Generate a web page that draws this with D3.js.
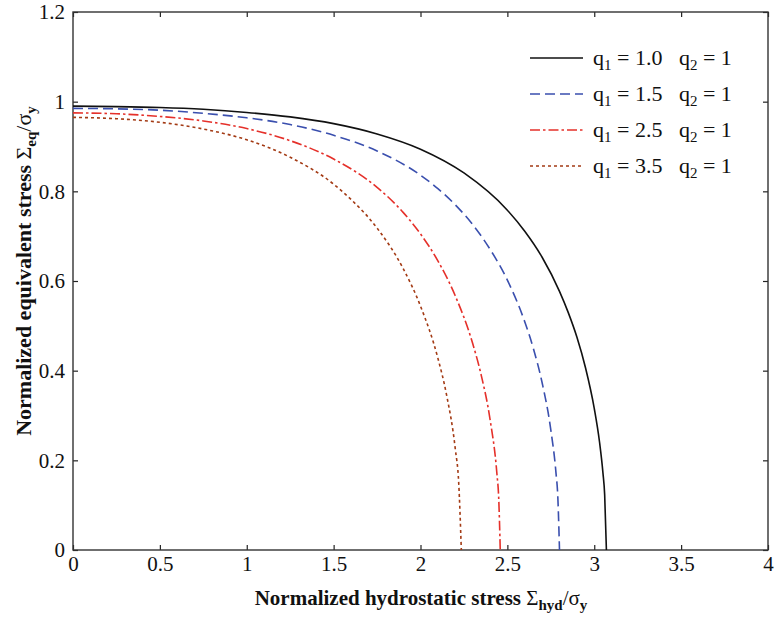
<!DOCTYPE html>
<html>
<head>
<meta charset="utf-8">
<script src="https://cdn.jsdelivr.net/npm/d3@7"></script>
<style>
  body { margin: 0; background: #fff; }
  svg text { font-family: "Liberation Serif", "Times New Roman", Times, serif; white-space: pre; }
</style>
</head>
<body>
<svg id="chart"></svg>
<script>
// points: [hydrostatic, equivalent]
var curveQ1_10 = [[0, 0.99], [0.25, 0.989], [0.5, 0.987], [0.75, 0.983], [1.0, 0.976], [1.25, 0.966],
    [1.5, 0.951], [1.75, 0.928], [2.0, 0.894], [2.25, 0.841], [2.5, 0.758], [2.6, 0.711], [2.7, 0.653],
    [2.8, 0.577], [2.85, 0.530], [2.9, 0.475], [2.95, 0.406], [3.0, 0.316], [3.03, 0.242], [3.05, 0.172],
    [3.06, 0.123], [3.07, 0]];
var curveQ1_15 = [[0, 0.985], [0.25, 0.984], [0.5, 0.981], [0.75, 0.974], [1.0, 0.964], [1.25, 0.949],
    [1.5, 0.925], [1.75, 0.890], [2.0, 0.836], [2.1, 0.806], [2.2, 0.770], [2.3, 0.726], [2.4, 0.671],
    [2.5, 0.602], [2.6, 0.509], [2.65, 0.449], [2.7, 0.373], [2.75, 0.268], [2.78, 0.171], [2.79, 0.121],
    [2.8, 0]];
var curveQ1_25 = [[0, 0.975], [0.25, 0.973], [0.5, 0.967], [0.75, 0.957], [1.0, 0.940], [1.25, 0.913],
    [1.5, 0.872], [1.75, 0.809], [1.9, 0.753], [2.0, 0.705], [2.1, 0.645], [2.2, 0.567], [2.3, 0.461],
    [2.35, 0.389], [2.4, 0.292], [2.44, 0.169], [2.45, 0.117], [2.459, 0]];
var curveQ1_35 = [[0, 0.965], [0.25, 0.962], [0.5, 0.954], [0.75, 0.939], [1.0, 0.915], [1.25, 0.876],
    [1.5, 0.816], [1.6, 0.782], [1.75, 0.718], [1.9, 0.628], [2.0, 0.544], [2.1, 0.428], [2.15, 0.346],
    [2.2, 0.226], [2.22, 0.149], [2.235, 0]];

var q1Labels = ["1.0", "1.5", "2.5", "3.5"];
var q2Labels = ["1", "1", "1", "1"];
var xTicks = [0, 0.5, 1, 1.5, 2, 2.5, 3, 3.5, 4];
var yTicks = [0, 0.2, 0.4, 0.6, 0.8, 1, 1.2];

var series = [
    { data: curveQ1_10, color: "#111111", dash: null },
    { data: curveQ1_15, color: "#3a4fae", dash: "10,5" },
    { data: curveQ1_25, color: "#e5302a", dash: "10,3,2.5,3" },
    { data: curveQ1_35, color: "#a33a14", dash: "3,3" }
];

var margin = { top: 12, right: 8, bottom: 68, left: 73 },
    width = 776 - margin.left - margin.right,
    height = 618 - margin.top - margin.bottom;

var svg = d3.select("#chart")
    .attr("width", 776)
    .attr("height", 618)
    .append("g")
    .attr("transform", "translate(" + margin.left + "," + margin.top + ")");

var x = d3.scaleLinear().domain([0, 4]).range([0, width]);
var y = d3.scaleLinear().domain([0, 1.2]).range([height, 0]);

function styleAxis(g) {
    g.attr("font-family", null).attr("font-size", null);
    g.select(".domain").remove();
    g.selectAll(".tick line").attr("stroke", "#222").attr("stroke-width", 1.2);
    g.selectAll(".tick text")
        .attr("fill", "#111")
        .style("font-size", "21px");
}

svg.append("g")
    .attr("transform", "translate(0," + height + ")")
    .call(d3.axisBottom(x).tickValues(xTicks).tickFormat(d3.format("")).tickSizeInner(-5).tickSizeOuter(0).tickPadding(6))
    .call(styleAxis);

svg.append("g")
    .call(d3.axisTop(x).tickValues(xTicks).tickFormat("").tickSizeInner(-5).tickSizeOuter(0))
    .call(styleAxis);

svg.append("g")
    .call(d3.axisLeft(y).tickValues(yTicks).tickFormat(d3.format("")).tickSizeInner(-5).tickSizeOuter(0).tickPadding(8))
    .call(styleAxis);

svg.append("g")
    .attr("transform", "translate(" + width + ",0)")
    .call(d3.axisRight(y).tickValues(yTicks).tickFormat("").tickSizeInner(-5).tickSizeOuter(0))
    .call(styleAxis);

svg.append("rect")
    .attr("width", width)
    .attr("height", height)
    .attr("fill", "none")
    .attr("stroke", "#333")
    .attr("stroke-width", 1.4);

var line = d3.line()
    .x(function (d) { return x(d[0]); })
    .y(function (d) { return y(d[1]); })
    .curve(d3.curveMonotoneX);

series.forEach(function (s) {
    svg.append("path")
        .datum(s.data)
        .attr("fill", "none")
        .attr("stroke", s.color)
        .attr("stroke-width", 1.6)
        .attr("stroke-dasharray", s.dash)
        .attr("d", line);
});

// legend
var legend = svg.append("g").attr("transform", "translate(457,46)");
series.forEach(function (s, i) {
    var row = legend.append("g").attr("transform", "translate(0," + (i * 36) + ")");
    row.append("line")
        .attr("x1", 0).attr("x2", 53)
        .attr("y1", 0).attr("y2", 0)
        .attr("stroke", s.color)
        .attr("stroke-width", 1.6)
        .attr("stroke-dasharray", s.dash);
    var t = row.append("text")
        .attr("x", 63)
        .attr("y", 7)
        .attr("fill", "#111")
        .style("font-size", "22px");
    t.append("tspan").text("q");
    t.append("tspan").attr("dy", 5).style("font-size", "15px").text("1");
    t.append("tspan").attr("dy", -5).text(" = " + q1Labels[i] + "   q");
    t.append("tspan").attr("dy", 5).style("font-size", "15px").text("2");
    t.append("tspan").attr("dy", -5).text(" = " + q2Labels[i]);
});

// axis titles
function titleText(t, main, sub) {
    t.append("tspan").text(main);
    t.append("tspan").style("font-weight", "normal").text("Σ");
    t.append("tspan").attr("dy", 5).style("font-size", "15px").text(sub);
    t.append("tspan").attr("dy", -5).style("font-weight", "normal").text("/σ");
    t.append("tspan").attr("dy", 5).style("font-size", "15px").text("y");
}

var xt = svg.append("text")
    .attr("x", 348)
    .attr("y", height + 55)
    .attr("text-anchor", "middle")
    .attr("fill", "#111")
    .style("font-size", "21px")
    .style("font-weight", "bold");
titleText(xt, "Normalized hydrostatic stress ", "hyd");

var yt = svg.append("text")
    .attr("transform", "translate(-42," + 259 + ") rotate(-90)")
    .attr("text-anchor", "middle")
    .attr("fill", "#111")
    .style("font-size", "22px")
    .style("font-weight", "bold");
titleText(yt, "Normalized equivalent stress ", "eq");
</script>
</body>
</html>
